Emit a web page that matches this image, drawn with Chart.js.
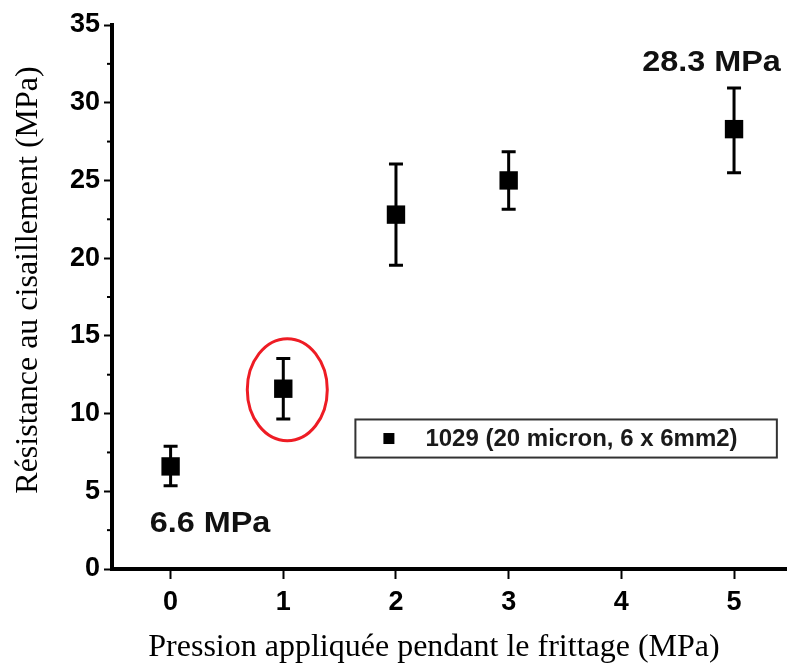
<!DOCTYPE html>
<html>
<head>
<meta charset="utf-8">
<script src="https://cdn.jsdelivr.net/npm/chart.js@4/dist/chart.umd.min.js"></script>
<style>
  body { margin: 0; background: #fff; overflow: hidden; }
</style>
</head>
<body>
<canvas id="chart" width="787" height="668"></canvas>
<script>
// values
const pressure = [0, 1, 2, 3, 5];
const shearStrength = [6.6, 11.6, 22.8, 25.0, 28.3];
const errLow = [5.35, 9.65, 19.55, 23.15, 25.5];
const errHigh = [7.9, 13.55, 26.05, 26.85, 30.95];
const seriesLabel = "1029 (20 micron, 6 x 6mm2)";
const xTicks = [0, 1, 2, 3, 4, 5];
const yTicks = [0, 5, 10, 15, 20, 25, 30, 35];
const yMinorTicks = [2.5, 7.5, 12.5, 17.5, 22.5, 27.5, 32.5];
const xTitle = "Pression appliquée pendant le frittage (MPa)";
const yTitle = "Résistance au cisaillement (MPa)";

const tickFont = { family: "'Liberation Sans', Arial, sans-serif", size: 27, weight: "bold" };

// error bars, minor ticks, notes, legend box, titles
const extras = {
  id: "extras",
  beforeDatasetsDraw(chart) {
    const ctx = chart.ctx;
    const xs = chart.scales.x, ys = chart.scales.y;
    ctx.save();
    ctx.strokeStyle = "#000";
    ctx.lineWidth = 3;
    for (let i = 0; i < pressure.length; i++) {
      const px = xs.getPixelForValue(pressure[i]);
      const top = ys.getPixelForValue(errHigh[i]);
      const bot = ys.getPixelForValue(errLow[i]);
      ctx.beginPath();
      ctx.moveTo(px, top); ctx.lineTo(px, bot);
      ctx.moveTo(px - 7, top); ctx.lineTo(px + 7, top);
      ctx.moveTo(px - 7, bot); ctx.lineTo(px + 7, bot);
      ctx.stroke();
    }
    ctx.restore();
  },
  afterDraw(chart) {
    const ctx = chart.ctx;
    const xs = chart.scales.x, ys = chart.scales.y;
    const area = chart.chartArea;
    ctx.save();

    // minor ticks on y
    ctx.strokeStyle = "#000";
    ctx.lineWidth = 2;
    yMinorTicks.forEach(v => {
      const py = ys.getPixelForValue(v);
      ctx.beginPath();
      ctx.moveTo(area.left - 5, py); ctx.lineTo(area.left, py);
      ctx.stroke();
    });

    // value notes
    ctx.fillStyle = "#111";
    ctx.font = "bold 30px 'Liberation Sans', Arial, sans-serif";
    ctx.textAlign = "center";
    ctx.textBaseline = "alphabetic";
    const notes = [
      { i: 0, x: 0.35, y: 2.4 },
      { i: 4, x: 4.8, y: 32.04 }
    ];
    notes.forEach(n => {
      const t = shearStrength[n.i].toFixed(1) + " MPa";
      ctx.save();
      ctx.translate(xs.getPixelForValue(n.x), ys.getPixelForValue(n.y));
      ctx.scale(1.08, 1);
      ctx.fillText(t, 0, 0);
      ctx.restore();
    });

    // red circle round the point at 1 MPa
    const cx = xs.getPixelForValue(pressure[1]) + 4;
    const cy = ys.getPixelForValue(shearStrength[1]) + 1;
    ctx.strokeStyle = "#ee1c24";
    ctx.lineWidth = 3;
    ctx.beginPath();
    ctx.ellipse(cx, cy, 40, 51, 0, 0, Math.PI * 2);
    ctx.stroke();

    // legend box
    const lx1 = xs.getPixelForValue(1.64), lx2 = xs.getPixelForValue(5.38);
    const ly1 = ys.getPixelForValue(9.62), ly2 = ys.getPixelForValue(7.17);
    ctx.strokeStyle = "#333";
    ctx.lineWidth = 2;
    ctx.strokeRect(lx1, ly1, lx2 - lx1, ly2 - ly1);
    const my = (ly1 + ly2) / 2;
    ctx.fillStyle = "#000";
    ctx.fillRect(lx1 + 28, my - 5.5, 11, 11);
    ctx.fillStyle = "#1a1a1a";
    ctx.font = "bold 24px 'Liberation Sans', Arial, sans-serif";
    ctx.textAlign = "left";
    ctx.textBaseline = "middle";
    ctx.fillText(chart.data.datasets[0].label, lx1 + 70, my + 1);

    // axis titles
    ctx.fillStyle = "#000";
    ctx.font = "32px 'Liberation Serif', 'Times New Roman', serif";
    ctx.textAlign = "center";
    ctx.textBaseline = "middle";
    ctx.fillText(xTitle, 434, 648);
    ctx.save();
    ctx.translate(29, 280);
    ctx.rotate(-Math.PI / 2);
    ctx.fillText(yTitle, 0, 0);
    ctx.restore();

    ctx.restore();
  }
};

const ctx = document.getElementById("chart").getContext("2d");
new Chart(ctx, {
  type: "scatter",
  data: {
    datasets: [{
      label: seriesLabel,
      data: pressure.map((p, i) => ({ x: p, y: shearStrength[i] })),
      pointStyle: "rect",
      pointRadius: 13,
      backgroundColor: "#000",
      borderWidth: 0
    }]
  },
  options: {
    responsive: false,
    animation: false,
    layout: { autoPadding: false, padding: { top: 25, right: 0, left: 0, bottom: 0 } },
    plugins: {
      legend: { display: false },
      tooltip: { enabled: false }
    },
    scales: {
      x: {
        type: "linear",
        min: -0.52,
        max: 5.47,
        afterBuildTicks: s => { s.ticks = xTicks.map(v => ({ value: v })); },
        afterFit: s => { s.height = 99; s.paddingLeft = 0; s.paddingRight = 0; },
        ticks: { font: tickFont, color: "#000", padding: 7 },
        grid: { drawOnChartArea: false, tickLength: 10, tickWidth: 2, tickColor: "#000" },
        border: { color: "#000", width: 4 }
      },
      y: {
        min: 0,
        max: 35,
        afterBuildTicks: s => { s.ticks = yTicks.map(v => ({ value: v })); },
        afterFit: s => { s.width = 112; },
        ticks: { font: tickFont, color: "#000", padding: 4 },
        grid: { drawOnChartArea: false, tickLength: 8, tickWidth: 2, tickColor: "#000" },
        border: { color: "#000", width: 4 }
      }
    }
  },
  plugins: [extras]
});
</script>
</body>
</html>
